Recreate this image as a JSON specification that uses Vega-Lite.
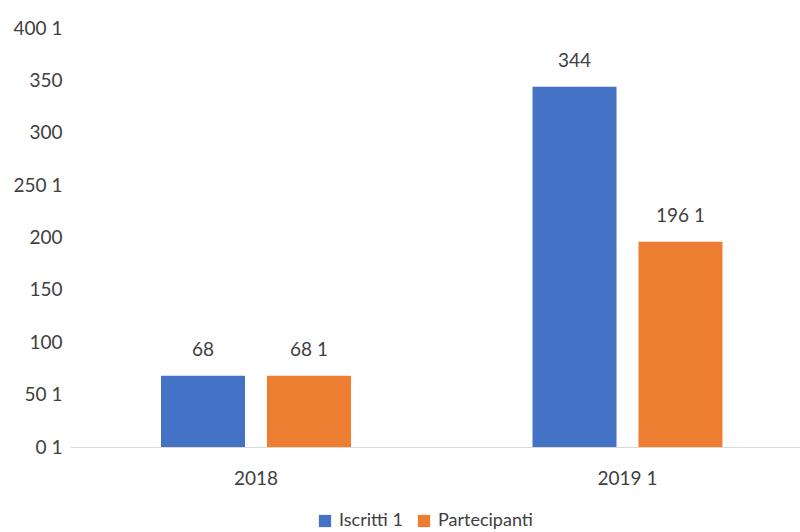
{
  "$schema": "https://vega.github.io/schema/vega-lite/v6.json",
  "width": 730,
  "height": 419,
  "autosize": "none",
  "padding": {"left": 70, "top": 28, "right": 0, "bottom": 85},
  "background": "white",
  "config": {
    "view": {"stroke": null},
    "font": "Lato",
    "axis": {"labelFont": "Lato", "labelColor": "#404040", "labelFontSize": 19}
  },
  "data": {
    "values": [
      {"anno": "2018", "serie": "Iscritti", "valore": 68, "etichetta": "68"},
      {"anno": "2018", "serie": "Partecipanti", "valore": 68, "etichetta": "68 1"},
      {"anno": "2019", "serie": "Iscritti", "valore": 344, "etichetta": "344"},
      {"anno": "2019", "serie": "Partecipanti", "valore": 196, "etichetta": "196 1"}
    ]
  },
  "encoding": {
    "x": {
      "field": "anno",
      "type": "nominal",
      "scale": {"paddingInner": 0.4886, "paddingOuter": 0.2268, "align": 0.54},
      "axis": {
        "title": null,
        "labelAngle": 0,
        "ticks": false,
        "domainColor": "#d9d9d9",
        "domainWidth": 1,
        "labelPadding": 22,
        "labelExpr": "datum.value == '2019' ? '2019 1' : datum.label"
      }
    },
    "xOffset": {
      "field": "serie",
      "type": "nominal",
      "scale": {"paddingInner": 0.2075, "paddingOuter": 0}
    },
    "y": {
      "field": "valore",
      "type": "quantitative",
      "scale": {"domain": [0, 400]},
      "axis": {
        "title": null,
        "values": [0, 50, 100, 150, 200, 250, 300, 350, 400],
        "grid": false,
        "ticks": false,
        "domain": false,
        "labelPadding": 8,
        "labelExpr": "(datum.value == 400 || datum.value == 250 || datum.value == 50 || datum.value == 0) ? datum.label + ' 1' : datum.label"
      }
    }
  },
  "layer": [
    {
      "mark": {"type": "bar"},
      "encoding": {
        "color": {
          "field": "serie",
          "type": "nominal",
          "scale": {"domain": ["Iscritti", "Partecipanti"], "range": ["#4472C4", "#ED7D31"]},
          "legend": {
            "title": null,
            "orient": "none",
            "direction": "horizontal",
            "legendX": 246,
            "legendY": 484,
            "symbolType": "square",
            "symbolSize": 150,
            "symbolStrokeWidth": 0,
            "labelFont": "Lato",
            "labelFontSize": 18,
            "labelColor": "#404040",
            "labelOffset": 5,
            "columnPadding": 12,
            "labelExpr": "datum.value == 'Iscritti' ? 'Iscritti 1' : datum.label"
          }
        }
      }
    },
    {
      "mark": {"type": "text", "baseline": "middle", "dy": -26, "fontSize": 19, "color": "#404040", "font": "Lato"},
      "encoding": {"text": {"field": "etichetta"}}
    }
  ]
}
